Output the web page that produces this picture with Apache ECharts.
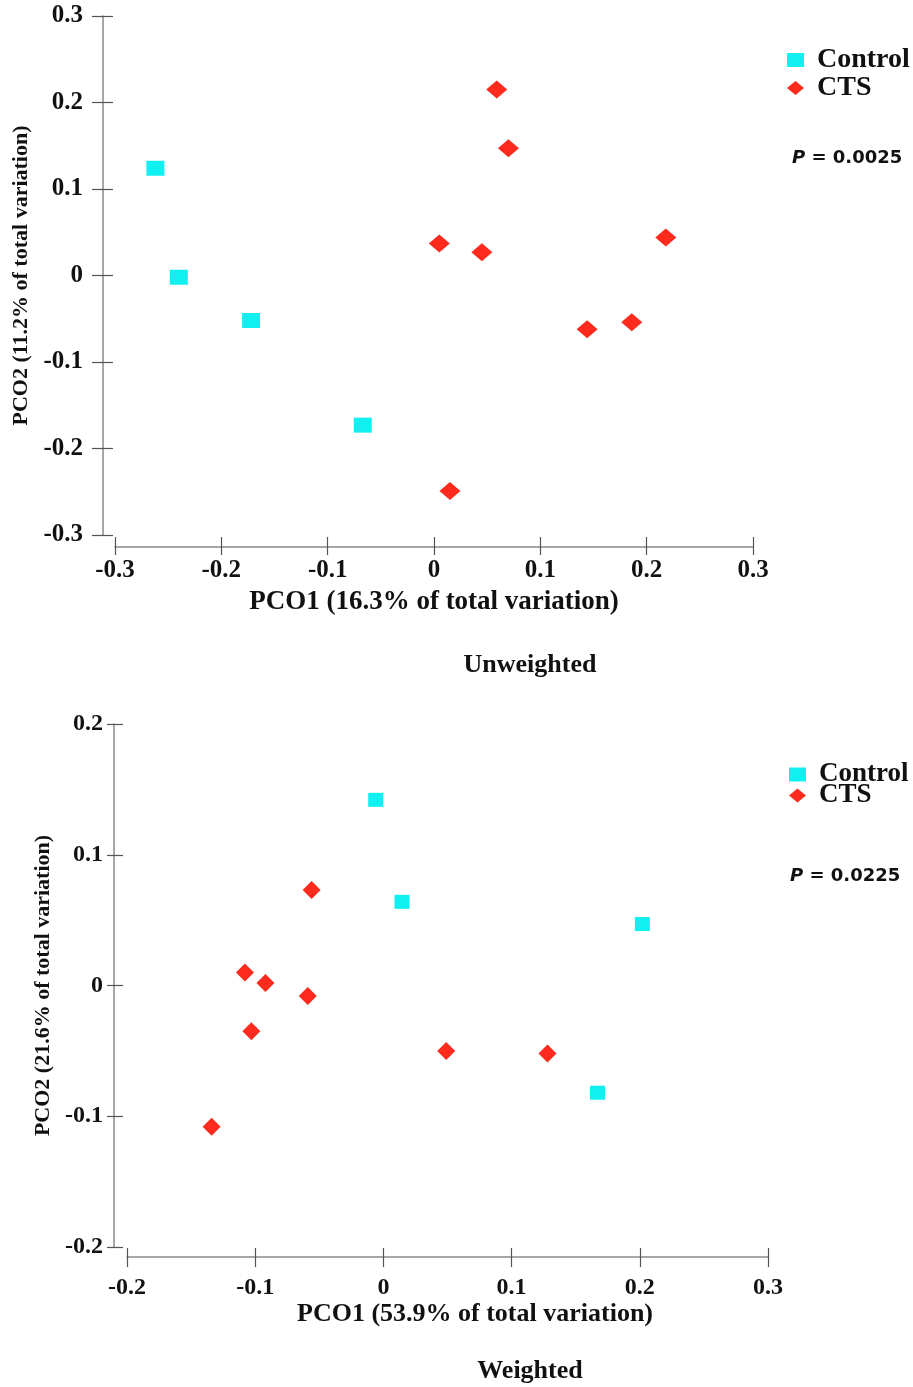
<!DOCTYPE html>
<html>
<head>
<meta charset="utf-8">
<title>PCoA</title>
<script src="https://cdn.jsdelivr.net/npm/echarts@6/dist/echarts.min.js"></script>
<style>
  html, body { margin: 0; padding: 0; background: #fff; }
  #charts { width: 913px; height: 1387px; }
</style>
</head>
<body>
<div id="charts"></div>
<script>
// values, [PCO1, PCO2]
var unwControl = [[-0.262, 0.124], [-0.240, -0.002], [-0.172, -0.052], [-0.067, -0.173]];
var unwCTS = [[0.059, 0.215], [0.070, 0.147], [0.005, 0.037], [0.045, 0.027],
              [0.218, 0.044], [0.144, -0.062], [0.186, -0.054], [0.015, -0.249]];
var wControl = [[-0.006, 0.142], [0.0145, 0.064], [0.202, 0.047], [0.167, -0.082]];
var wCTS = [[-0.056, 0.073], [-0.108, 0.010], [-0.092, 0.002], [-0.059, -0.008],
            [-0.103, -0.035], [-0.134, -0.108], [0.049, -0.050], [0.128, -0.052]];

var groups = ['Control', 'CTS'];
var xNames = ['PCO1 (16.3% of total variation)', 'PCO1 (53.9% of total variation)'];
var yNames = ['PCO2 (11.2% of total variation)', 'PCO2 (21.6% of total variation)'];
var panelTitles = ['Unweighted', 'Weighted'];
var pValues = ['0.0025', '0.0225'];

var serif = "'Liberation Serif', 'Times New Roman', serif";
var lineCol = '#8a8a8a';
var cyan = '#10f0f0';
var red = '#fd2a1d';

var myChart = echarts.init(document.getElementById('charts'));

// each axis is drawn twice: once with outside ticks + labels, once with inside ticks,
// so the ticks cross the line like in the original
function axisPair(dim, grid, min, max, offset, tickOut, tickIn, margin, size, name, gap, pad) {
    var main = {
        type: 'value', gridIndex: grid, min: min, max: max, interval: 0.1,
        offset: offset,
        position: dim == 'x' ? 'bottom' : 'left',
        axisLine: { show: true, onZero: false, lineStyle: { color: lineCol, width: 1.5 } },
        axisTick: { show: true, length: tickOut, lineStyle: { color: '#555', width: 1.2 } },
        splitLine: { show: false },
        axisLabel: { margin: margin, color: '#111', fontFamily: serif, fontWeight: 'bold', fontSize: size },
        name: name, nameLocation: 'middle', nameGap: gap,
        nameTextStyle: { color: '#111', fontFamily: serif, fontWeight: 'bold',
                         fontSize: dim == 'x' ? size + 2 : 22, padding: pad || 0 }
    };
    var inner = {
        type: 'value', gridIndex: grid, min: min, max: max, interval: 0.1,
        offset: offset,
        position: dim == 'x' ? 'bottom' : 'left',
        axisLine: { show: false, onZero: false },
        axisTick: { show: true, inside: true, length: tickIn, lineStyle: { color: '#555', width: 1.2 } },
        splitLine: { show: false },
        axisLabel: { show: false }
    };
    return [main, inner];
}

var xAxes = [].concat(
    axisPair('x', 0, -0.3, 0.3, 12, 8, 10, 11, 25, xNames[0], 42),
    axisPair('x', 1, -0.2, 0.3, 10, 10, 9, 19, 24, xNames[1], 44, [0, 0, 0, 55])
);
var yAxes = [].concat(
    axisPair('y', 0, -0.3, 0.3, 12, 11, 10, 20, 25, yNames[0], 61),
    axisPair('y', 1, -0.2, 0.2, 13, 7, 9, 11, 24, yNames[1], 39)
);

function scatter(name, data, xi, sym, size, color) {
    return {
        name: name, type: 'scatter', xAxisIndex: xi, yAxisIndex: xi,
        symbol: sym, symbolSize: size, data: data,
        itemStyle: { color: color, opacity: 1 }
    };
}

function legendAt(left, top, gap, fs) {
    return {
        orient: 'vertical', left: left, top: top, itemGap: gap,
        itemWidth: 17, itemHeight: 14,
        data: [{ name: groups[0], icon: 'rect' }, { name: groups[1], icon: 'diamond' }],
        textStyle: { color: '#111', fontFamily: serif, fontWeight: 'bold', fontSize: fs,
                     padding: [0, 0, 0, 8] }
    };
}

function pText(val, x, y) {
    return {
        type: 'text', x: x, y: y,
        style: {
            text: '{p|P} = ' + val,
            fontFamily: "'DejaVu Sans', sans-serif", fontWeight: 'bold', fontSize: 18,
            fill: '#111', verticalAlign: 'middle',
            rich: { p: { fontStyle: 'italic', fontFamily: "'DejaVu Sans', sans-serif",
                         fontWeight: 'bold', fontSize: 18, fill: '#111' } }
        }
    };
}

function titleText(txt, y) {
    return {
        type: 'text', x: 530, y: y,
        style: { text: txt, fontFamily: serif, fontWeight: 'bold', fontSize: 26,
                 fill: '#111', align: 'center', verticalAlign: 'middle' }
    };
}

option = {
    animation: false,
    backgroundColor: '#fff',
    grid: [
        { left: 115, right: 160, top: 16, bottom: 852 },
        { left: 127, right: 145, top: 724, bottom: 140 }
    ],
    xAxis: xAxes,
    yAxis: yAxes,
    legend: [
        legendAt(782, 41, 0, 28),
        legendAt(784, 756, -6, 27)
    ],
    graphic: [
        pText(pValues[0], 792, 158),
        pText(pValues[1], 790, 876),
        titleText(panelTitles[0], 665),
        titleText(panelTitles[1], 1371)
    ],
    series: [
        scatter(groups[0], unwControl, 0, 'rect', [18, 15], cyan),
        scatter(groups[1], unwCTS, 0, 'diamond', [21, 18], red),
        scatter(groups[0], wControl, 2, 'rect', [15, 14], cyan),
        scatter(groups[1], wCTS, 2, 'diamond', [18, 18], red)
    ]
};
myChart.setOption(option);
</script>
</body>
</html>
